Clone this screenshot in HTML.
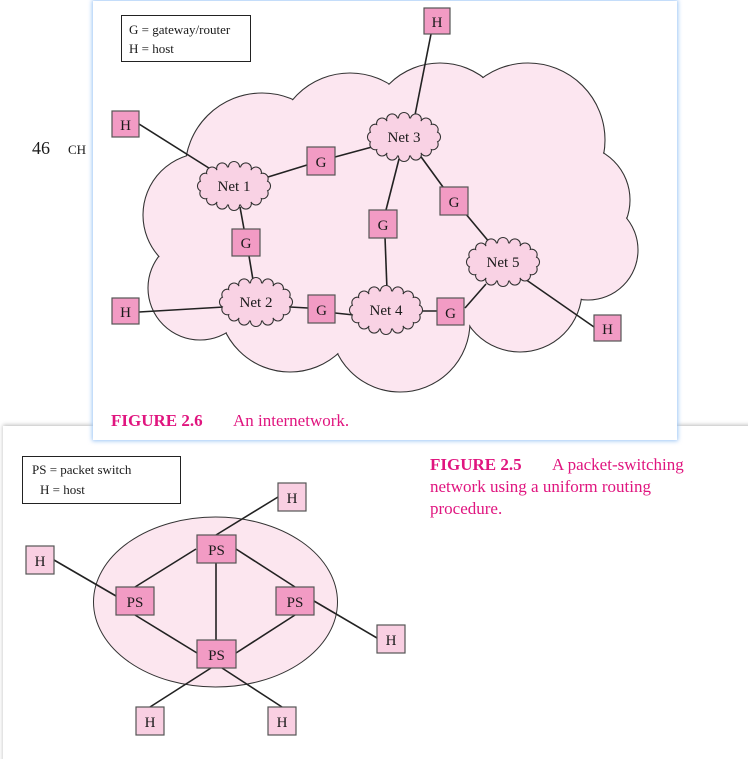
<!DOCTYPE html>
<html><head><meta charset="utf-8">
<style>
html,body{margin:0;padding:0;background:#fff;width:748px;height:759px;overflow:hidden;}
svg{display:block}
text{font-family:"Liberation Serif",serif;fill:#1a1a1a}
text.pk{fill:#e0157f}
</style></head>
<body>
<svg id="s" width="748" height="759" viewBox="0 0 748 759" xmlns="http://www.w3.org/2000/svg">
<defs>
<filter id="gs" x="-5%" y="-5%" width="110%" height="110%"><feGaussianBlur stdDeviation="2"/></filter>
</defs>
<text x="32" y="154" font-size="18">46</text>
<text x="68" y="154" font-size="13">CH</text>

<rect x="3" y="425" width="750" height="340" fill="#bbb" filter="url(#gs)"/>
<rect x="3" y="426" width="750" height="340" fill="#fff"/>

<rect x="22.5" y="456.5" width="158" height="47" fill="#fff" stroke="#222" stroke-width="1"/>
<text x="32" y="474" font-size="13">PS = packet switch</text>
<text x="40" y="494" font-size="13">H = host</text>
<ellipse cx="215.5" cy="602" rx="122" ry="85" fill="#fce6ef" stroke="#333" stroke-width="1"/>
<g stroke="#222" stroke-width="1.6">
<line x1="216" y1="535" x2="278" y2="497"/>
<line x1="54" y1="560" x2="116" y2="596"/>
<line x1="196" y1="549" x2="135" y2="587"/>
<line x1="216" y1="563" x2="216" y2="640"/>
<line x1="236" y1="549" x2="295" y2="587"/>
<line x1="135" y1="615" x2="197" y2="653"/>
<line x1="295" y1="615" x2="236" y2="653"/>
<line x1="314" y1="601" x2="377" y2="638"/>
<line x1="211" y1="668" x2="150" y2="707"/>
<line x1="222" y1="668" x2="282" y2="707"/>
</g>
<g stroke="#555" stroke-width="1.2" fill="#f29bc4">
<rect x="197" y="535" width="39" height="28"/>
<rect x="116" y="587" width="38" height="28"/>
<rect x="276" y="587" width="38" height="28"/>
<rect x="197" y="640" width="39" height="28"/>
</g>
<g stroke="#555" stroke-width="1.2" fill="#f9cfe2">
<rect x="278" y="483" width="28" height="28"/>
<rect x="26" y="546" width="28" height="28"/>
<rect x="377" y="625" width="28" height="28"/>
<rect x="136" y="707" width="28" height="28"/>
<rect x="268" y="707" width="28" height="28"/>
</g>
<g font-size="15" text-anchor="middle">
<text x="216.5" y="555">PS</text><text x="135" y="607">PS</text><text x="295" y="607">PS</text><text x="216.5" y="660">PS</text>
<text x="292" y="503">H</text><text x="40" y="566">H</text><text x="391" y="645">H</text><text x="150" y="727">H</text><text x="282" y="727">H</text>
</g>
<text class="pk" x="430" y="470" font-size="17" font-weight="bold">FIGURE 2.5</text>
<text class="pk" x="552" y="470" font-size="17">A packet-switching</text>
<text class="pk" x="430" y="492" font-size="17">network using a uniform routing</text>
<text class="pk" x="430" y="514" font-size="17">procedure.</text>

<rect x="92" y="0" width="586" height="441" fill="#9cc6f5" filter="url(#gs)"/>
<rect x="93" y="1" width="584" height="439" fill="#fff"/>
<rect x="121.5" y="15.5" width="129" height="46" fill="#fff" stroke="#222" stroke-width="1"/>
<text x="129" y="34" font-size="13">G = gateway/router</text>
<text x="129" y="53" font-size="13">H = host</text>

<g id="big"></g>
<g stroke="#222" stroke-width="1.6">
<line x1="139" y1="124" x2="212" y2="170"/>
<line x1="431" y1="34" x2="415" y2="115"/>
<line x1="268" y1="177" x2="307" y2="165"/>
<line x1="335" y1="157" x2="372" y2="147"/>
<line x1="240" y1="207" x2="244" y2="229"/>
<line x1="249" y1="256" x2="253" y2="280"/>
<line x1="139" y1="312" x2="224" y2="307"/>
<line x1="290" y1="307" x2="308" y2="308"/>
<line x1="335" y1="313" x2="354" y2="315"/>
<line x1="399" y1="159" x2="386" y2="210"/>
<line x1="385" y1="237" x2="387" y2="290"/>
<line x1="419" y1="154" x2="443" y2="187"/>
<line x1="465" y1="213" x2="490" y2="243"/>
<line x1="420" y1="311" x2="437" y2="311"/>
<line x1="465" y1="308" x2="486" y2="284"/>
<line x1="525" y1="279" x2="594" y2="327"/>
</g>
<g id="small"></g>
<g stroke="#555" stroke-width="1.2" fill="#f29bc4">
<rect x="424" y="8" width="26" height="26"/>
<rect x="112" y="111" width="27" height="26"/>
<rect x="112" y="298" width="27" height="26"/>
<rect x="594" y="315" width="27" height="26"/>
<rect x="307" y="147" width="28" height="28"/>
<rect x="232" y="229" width="28" height="27"/>
<rect x="369" y="210" width="28" height="28"/>
<rect x="440" y="187" width="28" height="28"/>
<rect x="308" y="295" width="27" height="28"/>
<rect x="437" y="298" width="27" height="27"/>
</g>
<g font-size="15" text-anchor="middle">
<text x="437" y="27">H</text><text x="125.5" y="130">H</text><text x="125.5" y="317">H</text><text x="607.5" y="334">H</text>
<text x="321" y="167">G</text><text x="246" y="248">G</text><text x="383" y="230">G</text><text x="454" y="207">G</text><text x="321.5" y="315">G</text><text x="450.5" y="318">G</text>
<text x="234" y="191">Net 1</text><text x="256" y="307">Net 2</text><text x="404" y="142">Net 3</text><text x="386" y="315">Net 4</text><text x="503" y="267">Net 5</text>
</g>
<text class="pk" x="111" y="426" font-size="17" font-weight="bold">FIGURE 2.6</text>
<text class="pk" x="233" y="426" font-size="17">An internetwork.</text>
</svg>
<script>
var NS="http://www.w3.org/2000/svg";
function el(p,t,a){var e=document.createElementNS(NS,t);for(var k in a)e.setAttribute(k,a[k]);p.appendChild(e);return e;}
var big=document.getElementById('big');
var C=[[262,170,77],[350,148,75],[440,135,72],[528,140,77],[575,200,55],[588,250,50],[520,290,62],[400,322,70],[290,300,72],[200,288,52],[205,215,62],[400,230,110],[300,240,90],[500,230,90]];
C.forEach(function(c){el(big,'circle',{cx:c[0],cy:c[1],r:c[2],fill:'#fce6f0',stroke:'#333','stroke-width':1.1});});
C.forEach(function(c){el(big,'circle',{cx:c[0],cy:c[1],r:c[2]-0.8,fill:'#fce6f0'});});
var sm=document.getElementById('small');
var N=[[234,186],[256,302],[404,137],[386,310],[503,262]];
N.forEach(function(n){
 var rx=31,ry=19,k=16,pts=[];
 for(var i=0;i<k;i++){var a=i/k*2*Math.PI;pts.push([n[0]+rx*Math.cos(a),n[1]+ry*Math.sin(a)]);}
 pts.forEach(function(p){el(sm,'circle',{cx:p[0],cy:p[1],r:5.5,fill:'#f9d2e4',stroke:'#333','stroke-width':1.1});});
 pts.forEach(function(p){el(sm,'circle',{cx:p[0],cy:p[1],r:4.9,fill:'#f9d2e4'});});
 el(sm,'ellipse',{cx:n[0],cy:n[1],rx:rx,ry:ry,fill:'#f9d2e4'});
});
</script>
</body></html>
